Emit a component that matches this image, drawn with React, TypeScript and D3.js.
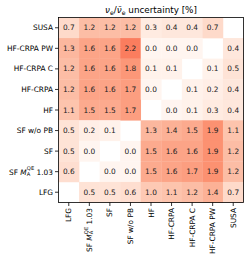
import * as d3 from "d3";

const W = 250;
const H = 262;

// plot frame
const marginLeft = 58.5;
const marginTop = 17.5;
const plotSize = 185;

const rowLabels = ["SUSA", "HF-CRPA PW", "HF-CRPA C", "HF-CRPA", "HF", "SF w/o PB", "SF", "SF MA 1.03", "LFG"];
const colLabels = ["LFG", "SF MA 1.03", "SF", "SF w/o PB", "HF", "HF-CRPA", "HF-CRPA C", "HF-CRPA PW", "SUSA"];

// one row per y label, null = empty cell
const susa = [0.7, 1.2, 1.2, 1.2, 0.3, 0.4, 0.4, 0.7, null];
const hfCrpaPw = [1.3, 1.6, 1.6, 2.2, 0.0, 0.0, 0.0, null, 0.4];
const hfCrpaC = [1.2, 1.6, 1.6, 1.8, 0.1, 0.1, null, 0.1, 0.5];
const hfCrpa = [1.2, 1.6, 1.6, 1.7, 0.0, null, 0.1, 0.2, 0.4];
const hf = [1.1, 1.5, 1.5, 1.7, null, 0.0, 0.1, 0.3, 0.4];
const sfNoPb = [0.5, 0.2, 0.1, null, 1.3, 1.4, 1.5, 1.9, 1.1];
const sf = [0.5, 0.0, null, 0.0, 1.5, 1.6, 1.6, 1.9, 1.2];
const sfMa = [0.6, null, 0.0, 0.0, 1.5, 1.6, 1.7, 1.9, 1.2];
const lfg = [null, 0.5, 0.5, 0.6, 1.0, 1.1, 1.2, 1.4, 0.7];

const rows = [susa, hfCrpaPw, hfCrpaC, hfCrpa, hf, sfNoPb, sf, sfMa, lfg];

const font = "DejaVu Sans, sans-serif";

// label with M_A^QE mathtext
const Label = ({ name, size }: { name: string; size: number }) => {
  if (name === "SF MA 1.03") {
    return (
      <>
        <tspan>SF </tspan>
        <tspan fontStyle="italic">M</tspan>
        <tspan fontSize={size * 0.7} dy={size * 0.25}>A</tspan>
        <tspan fontSize={size * 0.7} dx={-size * 0.45} dy={-size * 0.7}>QE</tspan>
        <tspan dy={size * 0.45}> 1.03</tspan>
      </>
    );
  }
  return <>{name}</>;
};

export default function App() {
  const x = d3.scaleBand().domain(colLabels).range([marginLeft, marginLeft + plotSize]);
  const y = d3.scaleBand().domain(rowLabels).range([marginTop, marginTop + plotSize]);
  const color = d3.scaleSequential(d3.interpolateReds).domain([0, 5]);
  const bw = x.bandwidth();
  const bh = y.bandwidth();
  const tick = 3.5;
  const fs = 7.4;

  return (
    <svg width={W} height={H} style={{ position: "absolute", left: 0, top: 0 }} fontFamily={font}>
      <rect width={W} height={H} fill="#fff" />
      {/* cells */}
      {rows.map((r, i) =>
        r.map((v, j) =>
          v === null ? null : (
            <g key={`${i}-${j}`}>
              <rect
                x={x(colLabels[j])}
                y={y(rowLabels[i])}
                width={bw + 0.3}
                height={bh + 0.3}
                fill={color(v)}
              />
              <text
                x={(x(colLabels[j]) as number) + bw / 2}
                y={(y(rowLabels[i]) as number) + bh / 2}
                textAnchor="middle"
                dominantBaseline="central"
                fontSize={fs}
                fill="#222"
              >
                {v.toFixed(1)}
              </text>
            </g>
          )
        )
      )}
      <rect x={marginLeft} y={marginTop} width={plotSize} height={plotSize} fill="none" stroke="#000" strokeWidth={0.8} />
      {/* y axis */}
      {rowLabels.map((d) => {
        const cy = (y(d) as number) + bh / 2;
        return (
          <g key={d}>
            <line x1={marginLeft - tick} x2={marginLeft} y1={cy} y2={cy} stroke="#000" strokeWidth={0.8} />
            <text x={marginLeft - tick - 2} y={cy} textAnchor="end" dominantBaseline="central" fontSize={fs} fill="#000">
              <Label name={d} size={fs} />
            </text>
          </g>
        );
      })}
      {/* x axis */}
      {colLabels.map((d) => {
        const cx = (x(d) as number) + bw / 2;
        const by = marginTop + plotSize;
        return (
          <g key={d}>
            <line x1={cx} x2={cx} y1={by} y2={by + tick} stroke="#000" strokeWidth={0.8} />
            <text
              transform={`translate(${cx},${by + tick + 2}) rotate(-90)`}
              textAnchor="end"
              dominantBaseline="central"
              fontSize={fs}
              fill="#000"
            >
              <Label name={d} size={fs} />
            </text>
          </g>
        );
      })}
      {/* title */}
      <text x={marginLeft + plotSize / 2} y={13} textAnchor="middle" fontSize={8.8} fill="#000">
        <tspan fontStyle="italic">ν</tspan>
        <tspan fontSize={6.2} dy={1.8}>e</tspan>
        <tspan dy={-1.8}>/</tspan>
        <tspan fontStyle="italic">{"ν\u0304"}</tspan>
        <tspan fontSize={6.2} dy={1.8}>e</tspan>
        <tspan dy={-1.8}> uncertainty [%]</tspan>
      </text>
    </svg>
  );
}
